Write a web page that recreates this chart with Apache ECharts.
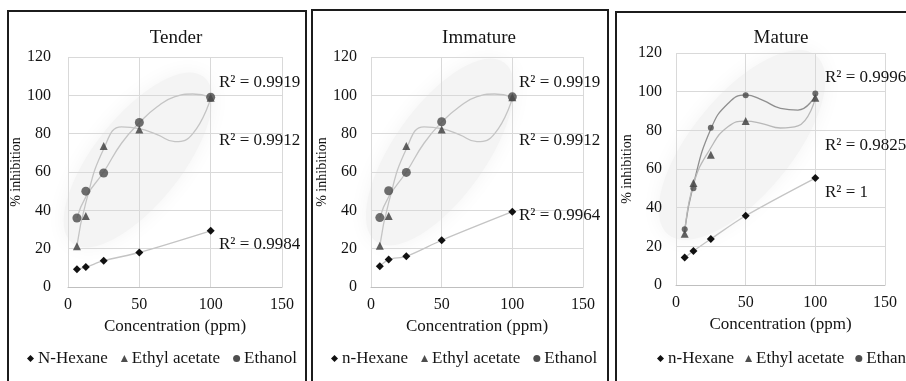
<!DOCTYPE html>
<html>
<head>
<meta charset="utf-8">
<script src="https://cdn.jsdelivr.net/npm/echarts@6/dist/echarts.min.js"></script>
<style>
  html, body { margin: 0; padding: 0; background: #fff; }
  #chart { width: 906px; height: 381px; }
</style>
</head>
<body>
<div id="chart"></div>
<script>
// ── 数据 ──
const conc = [6.25, 12.5, 25, 50, 100]
const trendX = [6.25, 12.5, 25, 37.5, 50, 62.5, 75, 87.5, 100]

// Tender
const hexTender = [9.3, 10.4, 13.7, 18, 29.3]
const ethTender = [21.3, 37, 73.6, 82.2, 98.8]
const etoTender = [36, 50, 59.5, 85.8, 99]
const ethTrendTender = [21.5, 44, 72, 83.5, 82.6, 79.5, 75.8, 80, 98.5]
const etoTrendTender = [36, 47, 60, 75, 85.7, 94, 99.3, 100.7, 99]

// Immature
const hexImmature = [10.8, 14.3, 16, 24.4, 39.3]
const ethImmature = [21.5, 37, 73.6, 82.2, 99]
const etoImmature = [36.2, 50.2, 59.8, 86.2, 99.2]
const ethTrendImmature = [21.5, 44, 72, 83.5, 82.6, 79.5, 75.8, 80, 98.5]
const etoTrendImmature = [36.2, 47, 60, 75, 86, 94, 99.3, 100.7, 99.2]

// Mature
const hexMature = [14.2, 17.6, 23.8, 35.8, 55.3]
const ethMature = [26.5, 52.8, 67.4, 84.8, 96.8]
const etoMature = [28.8, 50, 81.4, 98.2, 99]
const ethTrendMature = [26.5, 52, 71, 82, 84.8, 83.3, 81.2, 82.3, 96.5]
const etoTrendMature = [28.5, 52, 80.7, 94, 98.3, 95.5, 91.4, 90.5, 98]

const panelTitles = ['Tender', 'Immature', 'Mature']
const hexNames = ['N-Hexane', 'n-Hexane', 'n-Hexane']
const r2Labels = [
  ['R² = 0.9919', 'R² = 0.9912', 'R² = 0.9984'],
  ['R² = 0.9919', 'R² = 0.9912', 'R² = 0.9964'],
  ['R² = 0.9996', 'R² = 0.9825', 'R² = 1'],
]

// ── 布局 ──
const FONT = '"Liberation Serif", "Times New Roman", serif'
const INK = '#141414'
const grids = [
  { left: 68, top: 57, width: 214, height: 230 },
  { left: 371, top: 57, width: 212, height: 230 },
  { left: 676, top: 53, width: 209, height: 232 },
]
const labelMargins = [17, 14, 14]
const titlePos = [[176, 38], [479, 38], [781, 38]]
const r2Pos = [
  [[219, 83], [219, 141], [219, 245]],
  [[519, 83], [519, 141], [519, 216]],
  [[825, 78], [825, 146], [825, 193]],
]
const legendLeft = [22, 326, 652]
const legendGap = [13, 13, 11]
const frames = [[8, 11, 298, 390], [312, 10, 296, 390], [616, 12, 300, 390]]
const blobs = [
  { x: 138, y: 160, rx: 106, ry: 44, rot: 0.9 },
  { x: 440, y: 152, rx: 110, ry: 46, rot: 0.95 },
  { x: 742, y: 145, rx: 116, ry: 50, rot: 0.88 },
]

const pair = (xs, ys) => xs.map((x, i) => [x, ys[i]])

const gridLine = { show: true, lineStyle: { color: '#d9d9d9', width: 1 } }
const xAxes = grids.map((g, i) => ({
  gridIndex: i, type: 'value', min: 0, max: 150, interval: 50,
  name: 'Concentration (ppm)', nameLocation: 'middle', nameGap: 30,
  nameTextStyle: { fontFamily: FONT, fontSize: 17, color: INK },
  axisLine: { show: true, lineStyle: { color: '#bfbfbf' } },
  axisTick: { show: false },
  axisLabel: { fontFamily: FONT, fontSize: 16, color: INK, margin: 10 },
  splitLine: gridLine,
}))
const yAxes = grids.map((g, i) => ({
  gridIndex: i, type: 'value', min: 0, max: 120, interval: 20,
  name: '% inhibition', nameLocation: 'middle', nameGap: 37,
  nameTextStyle: { fontFamily: FONT, fontSize: 14, color: INK },
  axisLine: { show: false },
  axisTick: { show: false },
  axisLabel: { fontFamily: FONT, fontSize: 16, color: INK, margin: labelMargins[i] },
  splitLine: gridLine,
}))

const panels = [
  { hex: hexTender, eth: ethTender, eto: etoTender, ethTr: ethTrendTender, etoTr: etoTrendTender,
    etoSize: 9, etoTrendColor: '#c4c4c4', ethTrendColor: '#c4c4c4' },
  { hex: hexImmature, eth: ethImmature, eto: etoImmature, ethTr: ethTrendImmature, etoTr: etoTrendImmature,
    etoSize: 9, etoTrendColor: '#c4c4c4', ethTrendColor: '#c4c4c4' },
  { hex: hexMature, eth: ethMature, eto: etoMature, ethTr: ethTrendMature, etoTr: etoTrendMature,
    etoSize: 6, etoTrendColor: '#8f8f8f', ethTrendColor: '#b8b8b8' },
]

const series = []
panels.forEach((p, i) => {
  series.push(
    { name: 'trend-eto-' + i, type: 'line', xAxisIndex: i, yAxisIndex: i, smooth: 0.5,
      data: pair(trendX, p.etoTr), showSymbol: false, silent: true,
      lineStyle: { color: p.etoTrendColor, width: 1.3 }, z: 3 },
    { name: 'trend-eth-' + i, type: 'line', xAxisIndex: i, yAxisIndex: i, smooth: 0.5,
      data: pair(trendX, p.ethTr), showSymbol: false, silent: true,
      lineStyle: { color: p.ethTrendColor, width: 1.3 }, z: 3 },
    { name: hexNames[i], type: 'line', xAxisIndex: i, yAxisIndex: i, smooth: 0.3,
      data: pair(conc, p.hex), symbol: 'diamond', symbolSize: 8,
      itemStyle: { color: '#111' }, lineStyle: { color: '#c4c4c4', width: 1.3 }, z: 4 },
    { name: 'Ethyl acetate', type: 'scatter', xAxisIndex: i, yAxisIndex: i,
      data: pair(conc, p.eth), symbol: 'triangle', symbolSize: 8,
      itemStyle: { color: '#3a3a3a' }, z: 5 },
    { name: 'Ethanol', type: 'scatter', xAxisIndex: i, yAxisIndex: i,
      data: pair(conc, p.eto), symbol: 'circle', symbolSize: p.etoSize,
      itemStyle: { color: '#4a4a4a' }, z: 5 },
  )
})

const legends = legendLeft.map((left, i) => ({
  left, top: 345, width: 400, itemWidth: 7, itemHeight: 7, itemGap: legendGap[i],
  textStyle: { fontFamily: FONT, fontSize: 17, color: INK, padding: [0, 0, 0, -1] },
  data: [
    { name: hexNames[i], icon: 'diamond', itemStyle: { color: '#111' } },
    { name: 'Ethyl acetate', icon: 'triangle', itemStyle: { color: '#222' } },
    { name: 'Ethanol', icon: 'circle', itemStyle: { color: '#222' } },
  ],
  selectedMode: false,
}))

const graphic = []
blobs.forEach(b => graphic.push({
  type: 'circle', x: b.x, y: b.y, scaleX: b.rx / 50, scaleY: b.ry / 50, rotation: b.rot,
  shape: { cx: 0, cy: 0, r: 50 }, z: -10, silent: true,
  style: { fill: '#f4f4f4', shadowBlur: 20, shadowColor: '#f4f4f4' },
}))
frames.forEach(f => graphic.push({
  type: 'rect', shape: { x: f[0], y: f[1], width: f[2], height: f[3] }, z: 10, silent: true,
  style: { fill: 'none', stroke: '#1c1c1c', lineWidth: 2 },
}))
panelTitles.forEach((t, i) => graphic.push({
  type: 'text', x: titlePos[i][0], y: titlePos[i][1], z: 10, silent: true,
  style: { text: t, font: '19px ' + FONT, fill: INK, textAlign: 'center', textVerticalAlign: 'middle' },
}))
r2Labels.forEach((labels, i) => labels.forEach((t, j) => graphic.push({
  type: 'text', x: r2Pos[i][j][0], y: r2Pos[i][j][1], z: 10, silent: true,
  style: { text: t, font: '17px ' + FONT, fill: INK, textAlign: 'left', textVerticalAlign: 'middle' },
})))

const chart = echarts.init(document.getElementById('chart'), undefined, { renderer: 'canvas' })
chart.setOption({
  backgroundColor: '#fff',
  animation: false,
  grid: grids,
  xAxis: xAxes,
  yAxis: yAxes,
  legend: legends,
  series,
  graphic,
})
</script>
</body>
</html>
